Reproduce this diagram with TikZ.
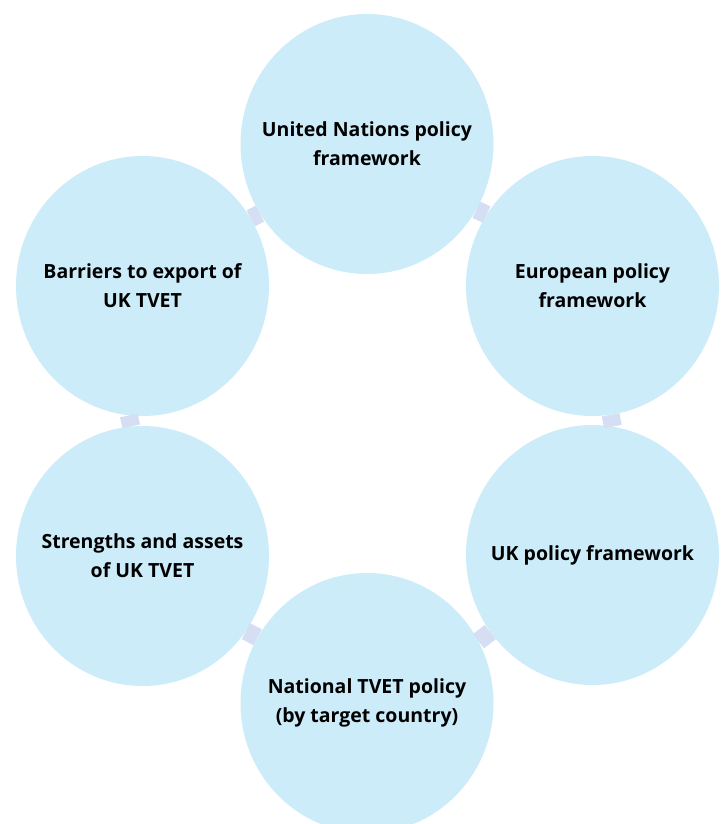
\documentclass[tikz,border=0pt]{standalone}
\usepackage{fontspec}
\setmainfont{Open Sans}
\usetikzlibrary{shapes.geometric}
\definecolor{bubble}{RGB}{205,236,249}
\definecolor{link}{RGB}{213,222,242}
\begin{document}
\begin{tikzpicture}[x=1pt,y=-1pt,
  bubblenode/.style={ellipse, fill=bubble, draw=none, inner sep=-40pt,
    minimum width=253pt, minimum height=260pt, align=center,
    font=\fontsize{19.5}{28.8}\selectfont\bfseries},
  linkbar/.style={draw=link, line width=18pt, line cap=butt}]
  \useasboundingbox (0,0) rectangle (724,824);
  \clip (0,0) rectangle (724,824);

  % the six themes, arranged in a ring
  \node[bubblenode] (un)  at (367,144)   {United Nations policy\\framework};
  \node[bubblenode] (eu)  at (592.5,286) {European policy\\framework};
  \node[bubblenode] (uk)  at (592.5,555) {UK policy framework};
  \node[bubblenode] (nat) at (367,703)   {National TVET policy\\(by target country)};
  \node[bubblenode] (str) at (142.5,556) {Strengths and assets\\of UK TVET};
  \node[bubblenode] (bar) at (142.5,286) {Barriers to export of\\UK TVET};

  % short links bridging the gaps between neighbouring themes
  \draw[linkbar] (un.329)   -- (eu.146);
  \draw[linkbar] (eu.278.4) -- (uk.81.6);
  \draw[linkbar] (uk.217.4) -- (nat.29.6);
  \draw[linkbar] (nat.149.4) -- (str.-36.3);
  \draw[linkbar] (str.95.2) -- (bar.264.8);
  \draw[linkbar] (bar.32)   -- (un.213);
\end{tikzpicture}
\end{document}
